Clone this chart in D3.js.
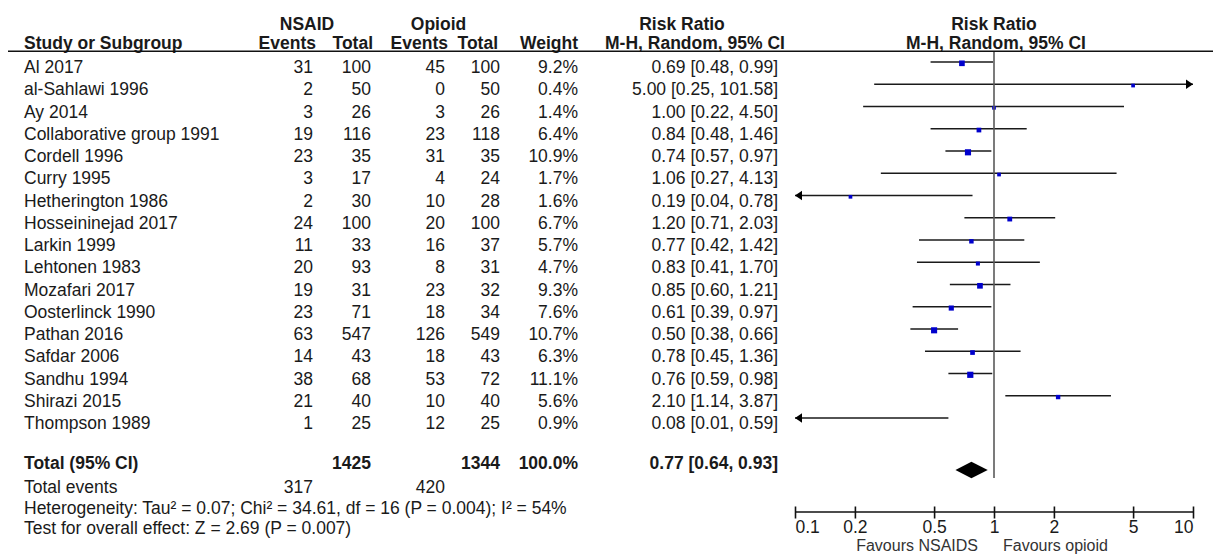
<!DOCTYPE html>
<html>
<head>
<meta charset="utf-8">
<script src="https://cdn.jsdelivr.net/npm/d3@7"></script>
<style>
html,body{margin:0;padding:0;background:#fff;overflow:hidden;}
svg{display:block;font-family:"Liberation Sans",Arial,sans-serif;}
</style>
</head>
<body>
<svg id="chart" width="1213" height="555"></svg>
<script>
const studies = ["Al 2017","al-Sahlawi 1996","Ay 2014","Collaborative group 1991","Cordell 1996","Curry 1995","Hetherington 1986","Hosseininejad 2017","Larkin 1999","Lehtonen 1983","Mozafari 2017","Oosterlinck 1990","Pathan 2016","Safdar 2006","Sandhu 1994","Shirazi 2015","Thompson 1989"];
const nsaidEvents = [31,2,3,19,23,3,2,24,11,20,19,23,63,14,38,21,1];
const nsaidTotal  = [100,50,26,116,35,17,30,100,33,93,31,71,547,43,68,40,25];
const opioidEvents = [45,0,3,23,31,4,10,20,16,8,23,18,126,18,53,10,12];
const opioidTotal  = [100,50,26,118,35,24,28,100,37,31,32,34,549,43,72,40,25];
const weights = [9.2,0.4,1.4,6.4,10.9,1.7,1.6,6.7,5.7,4.7,9.3,7.6,10.7,6.3,11.1,5.6,0.9];
const rr   = [0.69,5.00,1.00,0.84,0.74,1.06,0.19,1.20,0.77,0.83,0.85,0.61,0.50,0.78,0.76,2.10,0.08];
const lo   = [0.48,0.25,0.22,0.48,0.57,0.27,0.04,0.71,0.42,0.41,0.60,0.39,0.38,0.45,0.59,1.14,0.01];
const hi   = [0.99,101.58,4.50,1.46,0.97,4.13,0.78,2.03,1.42,1.70,1.21,0.97,0.66,1.36,0.98,3.87,0.59];
const totalN = [1425,1344];
const totalEvents = [317,420];
const totalWeight = 100.0;
const pooled = [0.77,0.64,0.93];
const axisTicks = [0.1,0.2,0.5,1,2,5,10];
const heterogeneityText = "Heterogeneity: Tau² = 0.07; Chi² = 34.61, df = 16 (P = 0.004); I² = 54%";
const overallText = "Test for overall effect: Z = 2.69 (P = 0.007)";
const favourLeft = "Favours NSAIDS";
const favourRight = "Favours opioid";

const svg = d3.select("#chart");
const FS = 17.5;
const txtCol = "#1a1a1a";
const f2 = d3.format(".2f");
const f1 = d3.format(".1f");

const x = d3.scaleLog().domain([0.1,10]).range([795,1193]);
const yLine = d3.scaleLinear().domain([0,16]).range([62,418]);
const size = d3.scaleSqrt().domain([0,11.1]).range([0,6.2]);

const colRight = {ne:313, nt:371, oe:445, ot:500, w:578, rr:778};
const nameX = 24;

function t(xp, yp, s, anchor, bold, col, fs){
  return svg.append("text").attr("x",xp).attr("y",yp)
    .attr("text-anchor",anchor||"start")
    .attr("font-size",fs||FS).attr("font-weight",bold?"bold":"normal")
    .attr("fill",col||txtCol).text(s);
}

// headers
const h1 = 29.5, h2 = 49;
t(307,h1,"NSAID","middle",true);
t(438.5,h1,"Opioid","middle",true);
t(682,h1,"Risk Ratio","middle",true);
t(994,h1,"Risk Ratio","middle",true);
t(nameX,h2,"Study or Subgroup","start",true);
t(colRight.ne+3,h2,"Events","end",true);
t(colRight.nt+2,h2,"Total","end",true);
t(colRight.oe+3,h2,"Events","end",true);
t(colRight.ot-2,h2,"Total","end",true);
t(colRight.w,h2,"Weight","end",true);
t(695,h2,"M-H, Random, 95% CI","middle",true);
t(996,h2,"M-H, Random, 95% CI","middle",true);

svg.append("line").attr("x1",8).attr("x2",1213).attr("y1",51.2).attr("y2",51.2)
  .attr("stroke","#111").attr("stroke-width",1.6);

// rows
const rows = studies.map((s,i)=>({s,i,ne:nsaidEvents[i],nt:nsaidTotal[i],oe:opioidEvents[i],ot:opioidTotal[i],w:weights[i],rr:rr[i],lo:lo[i],hi:hi[i]}));
const g = svg.append("g");
rows.forEach(d=>{
  const yb = yLine(d.i)+11;
  t(nameX,yb,d.s);
  t(colRight.ne,yb,d.ne,"end");
  t(colRight.nt,yb,d.nt,"end");
  t(colRight.oe,yb,d.oe,"end");
  t(colRight.ot,yb,d.ot,"end");
  t(colRight.w,yb,f1(d.w)+"%","end");
  t(colRight.rr,yb,`${f2(d.rr)} [${f2(d.lo)}, ${f2(d.hi)}]`,"end");
});

// vertical line at 1
svg.append("line").attr("x1",x(1)).attr("x2",x(1)).attr("y1",52).attr("y2",478)
  .attr("stroke","#5a5a5a").attr("stroke-width",1.6);

// CI lines
const [dMin,dMax] = x.domain();
rows.forEach(d=>{
  const yl = yLine(d.i);
  const l = Math.max(d.lo,dMin), h = Math.min(d.hi,dMax);
  g.append("line").attr("x1",x(l)).attr("x2",x(h)).attr("y1",yl).attr("y2",yl)
    .attr("stroke","#1a1a1a").attr("stroke-width",1.4);
  if(d.hi>dMax){
    const xe=x(dMax);
    g.append("path").attr("d",`M${xe},${yl} L${xe-7},${yl-4.7} L${xe-7},${yl+4.7} Z`).attr("fill","#000");
  }
  if(d.lo<dMin){
    const xs=x(dMin);
    g.append("path").attr("d",`M${xs},${yl} L${xs+7},${yl-4.7} L${xs+7},${yl+4.7} Z`).attr("fill","#000");
  }
  if(d.rr>=dMin && d.rr<=dMax){
    const s = Math.max(3.7,size(d.w));
    g.append("rect").attr("x",x(d.rr)-s/2).attr("y",yl+1.3-s/2).attr("width",s).attr("height",s)
      .attr("fill","#0000cc");
  }
});

// total
const yTot = 469;
t(nameX,yTot,"Total (95% CI)","start",true);
t(colRight.nt,yTot,totalN[0],"end",true);
t(colRight.ot,yTot,totalN[1],"end",true);
t(colRight.w,yTot,f1(totalWeight)+"%","end",true);
t(colRight.rr,yTot,`${f2(pooled[0])} [${f2(pooled[1])}, ${f2(pooled[2])}]`,"end",true);
const yd = 470;
svg.append("path").attr("d",`M${x(pooled[1])},${yd} L${x(pooled[0])},${yd-8.3} L${x(pooled[2])},${yd} L${x(pooled[0])},${yd+8.3} Z`)
  .attr("fill","#000");

t(nameX,493,"Total events");
t(colRight.ne,493,totalEvents[0],"end");
t(colRight.oe,493,totalEvents[1],"end");
t(nameX,513.5,heterogeneityText);
t(nameX,534,overallText);

// axis
const axisY = 511.5;
const axis = d3.axisBottom(x).tickValues(axisTicks).tickFormat(d3.format("~g")).tickSizeInner(7).tickSizeOuter(0);
const ag = svg.append("g").attr("transform",`translate(0,${axisY})`).call(axis);
ag.select(".domain").attr("stroke","#111").attr("stroke-width",1.6);
ag.selectAll(".tick line").attr("y1",-5).attr("y2",7).attr("stroke","#111").attr("stroke-width",1.6);
ag.selectAll(".tick text").attr("y",21.5).attr("dy",0).attr("font-size",FS)
  .attr("font-family","'Liberation Sans',Arial,sans-serif").attr("fill",txtCol);
ag.selectAll(".tick text").filter(d=>d===axisTicks[0]).attr("text-anchor","start");
ag.selectAll(".tick text").filter(d=>d===axisTicks[axisTicks.length-1]).attr("text-anchor","end");

t(x(1)-16,551.3,favourLeft,"end",false,"#333",16);
t(x(1)+9,551.3,favourRight,"start",false,"#333",16);
</script>
</body>
</html>
